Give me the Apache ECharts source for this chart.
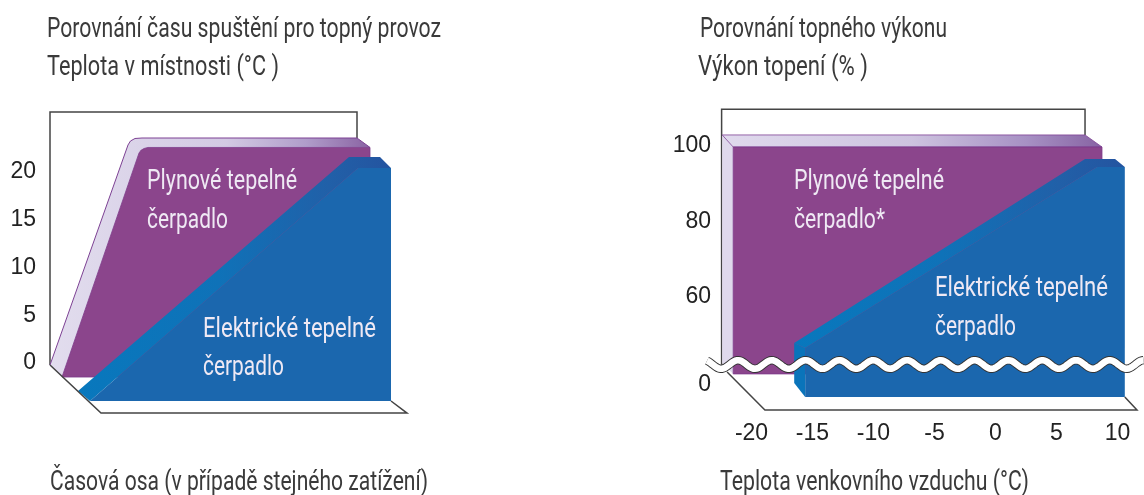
<!DOCTYPE html>
<html><head><meta charset="utf-8"><style>html,body{margin:0;padding:0;background:#fff}#c{width:1144px;height:495px}</style>
<script src="https://cdn.jsdelivr.net/npm/echarts@6/dist/echarts.min.js"></script></head>
<body><div id="c"></div><script>
// ---- left panel: start-up time; x = time (arbitrary units), y = room temperature (deg C)
const startupTicks = [0, 5, 10, 15, 20];
const startupWall = [[0,-0.42],[0,26.07],[307,26.07],[307,23.35]];
const startupFloor = [[0,-0.42],[51,-5.45],[357,-5.45],[341,-4.19]];
const startupGasBack = [[0,-0.42],[78,22.62],[80.5,23.04],[85,23.30],[92,23.35],[307,23.35]];
const startupGasFront = [[12,-1.68],[89,21.78],[91,22.06],[94,22.25],[98,22.36],[320,22.36]];
const startupGasBase = [[320,-1.68]];
const startupElecFront = [[40,-4.19],[308,20.21],[341,20.21],[341,-4.19]];
const startupElecBevel = [[28,-3.14],[299,21.36],[330,21.36],[341,20.21],[308,20.21],[40,-4.19]];
// ---- right panel: heating output; x = outdoor temperature (deg C), y = output (%)
const outputXTicks = [-20,-15,-10,-5,0,5,10];
const outputYTicks = [0,60,80,100];
const outputWall = [[-22.45,4.8],[-22.45,109.2],[7.34,109.2],[7.34,102.4]];
const outputFloor = [[-22.0,2.9],[-18.9,-7.15],[11.6,-7.15],[10.6,-3.7]];
const outputGasFront = [[-21.5,2.4],[-21.5,99.2],[8.73,99.2],[8.73,2.4]];
const outputGasTop = [[-22.4,102.4],[7.34,102.4],[8.73,99.2],[-21.5,99.2]];
const outputGasSide = [[-22.4,102.4],[-21.5,99.2],[-21.5,2.4],[-22.4,5.3]];
const outputElecFront = [[-15.6,-3.7],[-15.6,46],[8.32,93.9],[10.6,93.9],[10.6,-3.7]];
const outputElecBevel = [[-16.5,47.3],[7.34,96],[9.8,96],[10.6,93.9],[8.32,93.9],[-15.6,46]];
const outputElecSide = [[-16.5,47.3],[-15.6,46],[-15.6,-3.7],[-16.5,0]];

const G = echarts.graphic.LinearGradient;
const lav1 = new G(0,0,1,0,[{offset:0,color:'#e2ddee'},{offset:.55,color:'#d3cae3'},{offset:.8,color:'#b09dca'},{offset:1,color:'#8a63a3'}]);
const lav2 = new G(0,0,1,0,[{offset:0,color:'#e0daed'},{offset:.5,color:'#cdc3df'},{offset:.8,color:'#a791c4'},{offset:1,color:'#8763a3'}]);
const bev = new G(0,0,1,0,[{offset:0,color:'#0878bd'},{offset:.45,color:'#0f72b8'},{offset:.8,color:'#2160a8'},{offset:1,color:'#2454a0'}]);
const PURPLE='#8b458c', BLUE='#1b67ae', LINE='#444';

function shape(panel, points, style, kind){
  return {type:'custom',coordinateSystem:'cartesian2d',xAxisIndex:panel,yAxisIndex:panel,clip:false,silent:true,
    data:points,
    renderItem(params,api){
      if(params.dataIndex!==0) return null;
      return {type:kind||'polygon',shape:{points:points.map(p=>api.coord(p))},style};
    }};
}
const line = (c,w)=>({fill:null,stroke:c,lineWidth:w});

const series=[
  shape(0,startupWall,line(LINE,1.5),'polyline'),
  shape(0,startupGasBack.concat([[320,22.36]],startupGasFront.slice().reverse()),{fill:lav1}),
  shape(0,startupGasBack,line('#7d4194',1),'polyline'),
  shape(0,startupGasBack.slice(-1).concat([[320,22.36]]),line('#7d4194',1),'polyline'),
  shape(0,startupGasFront.concat(startupGasBase),{fill:PURPLE,stroke:'#7c3a8a',lineWidth:.8}),
  shape(0,startupElecBevel,{fill:bev}),
  shape(0,startupElecFront,{fill:BLUE}),
  shape(0,startupFloor,line(LINE,1.5),'polyline'),

  shape(1,outputWall,line(LINE,1.5),'polyline'),
  shape(1,outputFloor,line(LINE,1.5),'polyline'),
  shape(1,outputGasSide,{fill:'#dfd9ec'}),
  shape(1,outputGasTop,{fill:lav2,stroke:'#7d4194',lineWidth:.8}),
  shape(1,outputGasFront,{fill:PURPLE,stroke:'#7c3a8a',lineWidth:.8}),
  shape(1,outputElecSide,{fill:'#0a74ba'}),
  shape(1,outputElecBevel,{fill:bev}),
  shape(1,outputElecFront,{fill:BLUE})
];

const tickFont={fontFamily:'Liberation Sans',fontSize:23,color:'#222'};
const yTickLabel={formatter:'{n|{value}}',rich:{n:{fontFamily:'Liberation Sans',fontSize:23,color:'#222',padding:[4,0,0,0]}}};
const hidden={axisLine:{show:false},axisTick:{show:false},splitLine:{show:false}};

// decorative axis-break marker: a wavy white band (not data)
const wave=[];
for(let x=707;x<=1144;x+=1.5){ wave.push([x,364.5-4.3*Math.cos((x-738)/33.8*2*Math.PI)]); }

const FONT='Roboto', FS=28;
const ctx=document.createElement('canvas').getContext('2d');
ctx.font=FS+'px '+FONT;
// each caption is condensed to the width it has in the picture
function txt(x,y,text,fill,width){
  return {type:'text',x:x,y:y+2,z:100,scaleX:width/ctx.measureText(text).width,
    style:{text:text,fill:fill,fontFamily:FONT,fontSize:FS,verticalAlign:'middle',align:'left'}};
}
const INK='#3a3a3a', W='#efe9f4';
const chart=echarts.init(document.getElementById('c'),null,{renderer:'canvas'});
chart.setOption({
  animation:false,backgroundColor:'#fff',
  grid:[
    {left:50,width:357,top:93.6,height:324.7,containLabel:false},
    {left:721,width:416,top:106.25,height:306.95,containLabel:false}
  ],
  xAxis:[
    Object.assign({type:'value',gridIndex:0,min:0,max:357,axisLabel:{show:false}},hidden),
    Object.assign({type:'value',gridIndex:1,min:-22.5,max:11.6,
      axisLabel:Object.assign({customValues:outputXTicks,margin:9,showMinLabel:true,showMaxLabel:true},tickFont)},hidden)
  ],
  yAxis:[
    Object.assign({type:'value',gridIndex:0,min:-6,max:28,
      axisLabel:Object.assign({customValues:startupTicks,margin:14},yTickLabel)},hidden),
    Object.assign({type:'value',gridIndex:1,min:-8,max:110,
      breaks:[{start:6,end:42.7,gap:0}],
      breakArea:{show:false,expandOnClick:false},
      axisLabel:Object.assign({customValues:outputYTicks,margin:10},yTickLabel)},hidden)
  ],
  series:series,
  graphic:{elements:[
    {type:'polyline',z:90,shape:{points:wave},style:{fill:null,stroke:'#333',lineWidth:8.4}},
    {type:'polyline',z:91,shape:{points:wave},style:{fill:null,stroke:'#fff',lineWidth:6.6}},
    txt(47,28,'Porovnání času spuštění pro topný provoz',INK,394),
    txt(47,66,'Teplota v místnosti (°C )',INK,232),
    txt(50,481,'Časová osa (v případě stejného zatížení)',INK,378),
    txt(700,28,'Porovnání topného výkonu',INK,247),
    txt(698,66,'Výkon topení (% )',INK,170),
    txt(720,481,'Teplota venkovního vzduchu (°C)',INK,309),
    txt(147,180,'Plynové tepelné',W,150),
    txt(147,219,'čerpadlo',W,81),
    txt(203,328,'Elektrické tepelné',W,173),
    txt(203,366,'čerpadlo',W,81),
    txt(794,180,'Plynové tepelné',W,150),
    txt(794,219,'čerpadlo*',W,91),
    txt(935,287,'Elektrické tepelné',W,173),
    txt(935,326,'čerpadlo',W,81)
  ]}
});
</script></body></html>
